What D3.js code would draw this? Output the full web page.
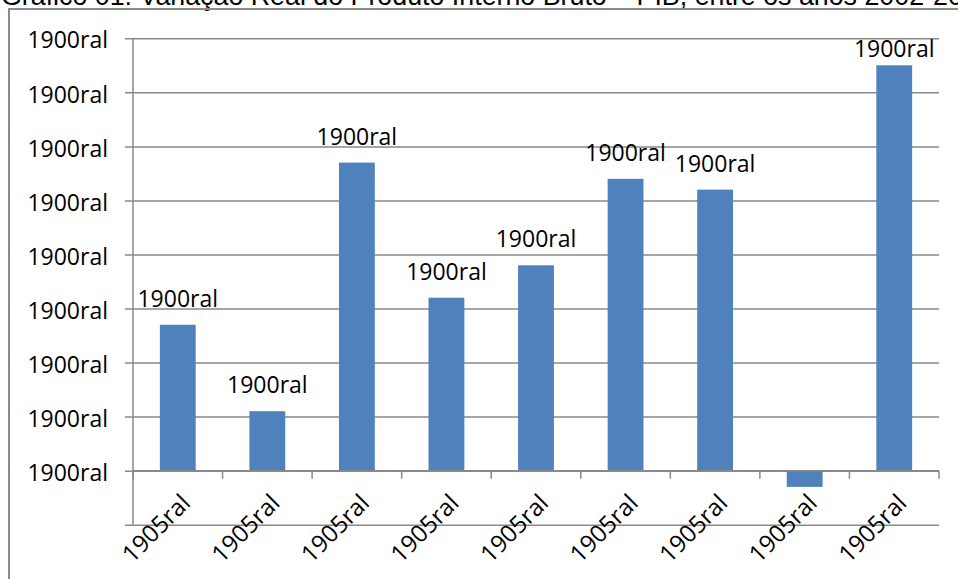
<!DOCTYPE html>
<html>
<head>
<meta charset="utf-8">
<script src="https://cdn.jsdelivr.net/npm/d3@7"></script>
<style>
  html, body { margin: 0; padding: 0; background: #fff; }
  svg { display: block; }
</style>
</head>
<body>
<svg id="chart" width="958" height="579"></svg>
<script>
// Variação real do PIB por ano (%)
const years = ["2002", "2003", "2004", "2005", "2006", "2007", "2008", "2009", "2010"];
const growth = [2.7, 1.1, 5.7, 3.2, 3.8, 5.4, 5.2, -0.3, 7.5];
// Rótulos como exibidos no gráfico (formato de célula herdado da planilha)
const yearLabels = ["1905ral", "1905ral", "1905ral", "1905ral", "1905ral", "1905ral", "1905ral", "1905ral", "1905ral"];
const valueLabels = ["1900ral", "1900ral", "1900ral", "1900ral", "1900ral", "1900ral", "1900ral", "", "1900ral"];
const yTicks = [-1, 0, 1, 2, 3, 4, 5, 6, 7, 8];
const yTickLabels = ["", "1900ral", "1900ral", "1900ral", "1900ral", "1900ral", "1900ral", "1900ral", "1900ral", "1900ral"];
const title = "Gráfico 01: Variação Real do Produto Interno Bruto – PIB, entre os anos 2002-2010";

const svg = d3.select("#chart");
const labelFont = "'Open Sans', 'Noto Sans', sans-serif";
const gridColor = "#898989";
const barColor = "#4f81bd";

const plot = { left: 133, right: 939, top: 38.3, bottom: 524.7 };

const x = d3.scaleBand()
  .domain(years)
  .range([plot.left, plot.right])
  .paddingInner(0.6)
  .paddingOuter(0.3);

const y = d3.scaleLinear()
  .domain([-1, 8])
  .range([plot.bottom, plot.top]);

// Título (a linha continua além da área visível da página)
svg.append("text")
  .attr("x", 1)
  .attr("y", 5)
  .attr("font-family", "'Liberation Sans', Arial, sans-serif")
  .attr("font-size", 26.8)
  .attr("fill", "#000")
  .text(title);

// Moldura do gráfico
svg.append("rect")
  .attr("x", 9)
  .attr("y", 9)
  .attr("width", 1000)
  .attr("height", 600)
  .attr("fill", "none")
  .attr("stroke", "#8a8a8a")
  .attr("stroke-width", 2);

// Eixo Y com linhas de grade
const yAxis = d3.axisLeft(y)
  .tickValues(yTicks)
  .tickSize(-(plot.right - plot.left))
  .tickFormat((d, i) => yTickLabels[i]);

const gy = svg.append("g")
  .attr("transform", `translate(${plot.left},0)`)
  .call(yAxis);
gy.select(".domain").remove();
gy.selectAll(".tick line")
  .attr("x1", -8)
  .attr("stroke", gridColor)
  .attr("stroke-width", 1.5);
gy.selectAll(".tick text")
  .attr("x", -25)
  .attr("dy", "0.42em")
  .attr("font-family", labelFont)
  .attr("font-size", 23)
  .attr("fill", "#000");

// Linha vertical do eixo
svg.append("line")
  .attr("x1", plot.left).attr("x2", plot.left)
  .attr("y1", plot.top).attr("y2", plot.bottom)
  .attr("stroke", gridColor)
  .attr("stroke-width", 1.5);

// Barras
svg.append("g")
  .selectAll("rect")
  .data(years)
  .join("rect")
  .attr("x", d => x(d))
  .attr("width", x.bandwidth())
  .attr("y", (d, i) => y(Math.max(0, growth[i])))
  .attr("height", (d, i) => Math.abs(y(growth[i]) - y(0)))
  .attr("fill", barColor);

// Eixo X na linha do zero, com marcas entre as categorias
const step = x.step();
const boundaries = d3.range(years.length + 1).map(i => plot.left + i * step);
svg.append("line")
  .attr("x1", plot.left).attr("x2", plot.right)
  .attr("y1", y(0)).attr("y2", y(0))
  .attr("stroke", gridColor)
  .attr("stroke-width", 1.5);
svg.append("g")
  .selectAll("line")
  .data(boundaries)
  .join("line")
  .attr("x1", d => d).attr("x2", d => d)
  .attr("y1", y(0)).attr("y2", y(0) + 8)
  .attr("stroke", gridColor)
  .attr("stroke-width", 1.5);

// Rótulos das categorias (inclinados)
svg.append("g")
  .selectAll("text")
  .data(years)
  .join("text")
  .attr("transform", d => `translate(${x(d) + x.bandwidth() / 2 + 2},${y(0) + 22}) rotate(-45)`)
  .attr("text-anchor", "end")
  .attr("dy", "0.7em")
  .attr("font-family", labelFont)
  .attr("font-size", 24)
  .attr("fill", "#000")
  .text((d, i) => yearLabels[i]);

// Rótulos de dados
svg.append("g")
  .selectAll("text")
  .data(years)
  .join("text")
  .attr("x", d => x(d) + x.bandwidth() / 2)
  .attr("y", (d, i) => Math.max(y(Math.max(0, growth[i])) - 18, 57))
  .attr("text-anchor", "middle")
  .attr("font-family", labelFont)
  .attr("font-size", 23)
  .attr("fill", "#000")
  .text((d, i) => valueLabels[i]);
</script>
</body>
</html>
